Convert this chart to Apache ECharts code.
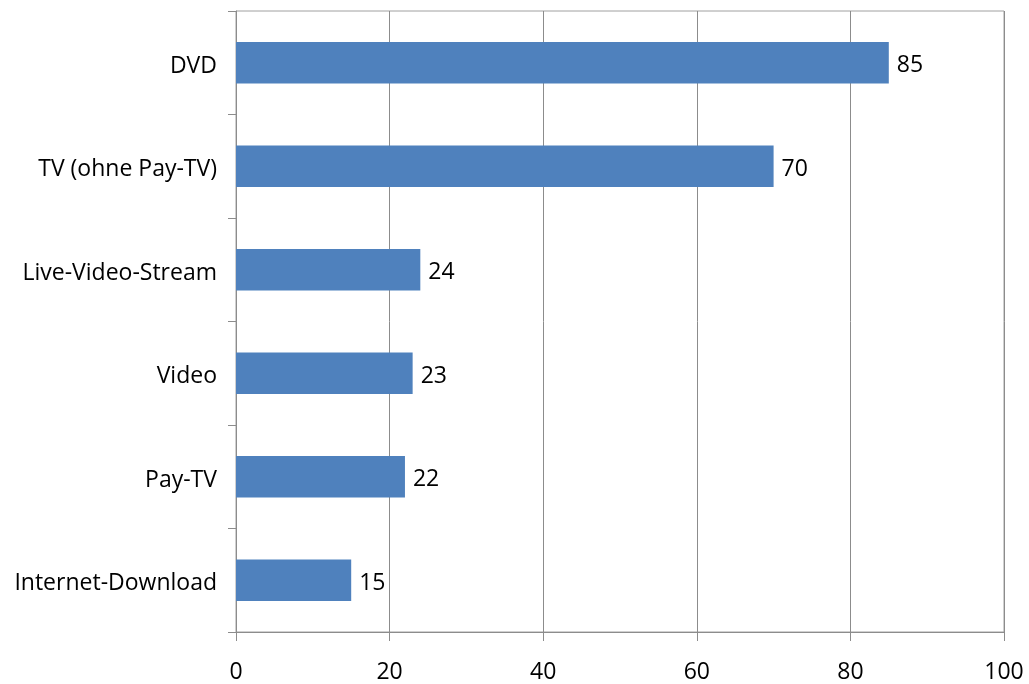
<!DOCTYPE html>
<html>
<head>
<meta charset="utf-8">
<script src="https://cdn.jsdelivr.net/npm/echarts@6/dist/echarts.min.js"></script>
<style>html,body{margin:0;padding:0;background:#fff;}#c{width:1029px;height:684px;}</style>
</head>
<body>
<div id="c"></div>
<script>
const categories = ["DVD", "TV (ohne Pay-TV)", "Live-Video-Stream", "Video", "Pay-TV", "Internet-Download"];
const values = [85, 70, 24, 23, 22, 15];
const xTicks = [0, 20, 40, 60, 80, 100];

const FONT = "'Open Sans', sans-serif";
const chart = echarts.init(document.getElementById('c'), null, {renderer: 'canvas'});
chart.setOption({
  animation: false,
  backgroundColor: '#ffffff',
  grid: {left: 236, right: 25, top: 11, bottom: 52, show: true, borderColor: '#a0a0a0', borderWidth: 1, containLabel: false},
  xAxis: {
    type: 'value', min: xTicks[0], max: xTicks[xTicks.length - 1], interval: 20,
    axisLine: {show: true, lineStyle: {color: '#8c8c8c', width: 1}},
    axisTick: {show: true, length: 9, lineStyle: {color: '#8c8c8c'}},
    splitLine: {show: true, lineStyle: {color: '#8c8c8c', width: 1}},
    axisLabel: {color: '#000', fontFamily: FONT, fontSize: 23, margin: 29}
  },
  yAxis: {
    type: 'category', data: categories, inverse: true,
    axisLine: {show: true, lineStyle: {color: '#8c8c8c', width: 1}},
    axisTick: {show: true, length: 8, lineStyle: {color: '#8c8c8c'}},
    axisLabel: {
      color: '#000', fontFamily: FONT, fontSize: 23, margin: 19,
      formatter: function (v) { return '{a|' + v + '}'; },
      rich: {a: {color: '#000', fontFamily: FONT, fontSize: 23, padding: [7, 0, 0, 0]}}
    }
  },
  series: [{
    type: 'bar', data: values, barWidth: '40%',
    itemStyle: {color: '#4f81bd'},
    label: {show: true, position: 'right', distance: 8, color: '#000', fontFamily: FONT, fontSize: 23, offset: [0, 3]}
  }]
});
</script>
</body>
</html>
